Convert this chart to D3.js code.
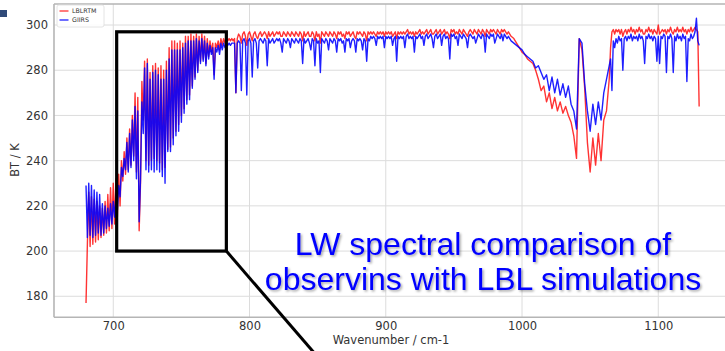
<!DOCTYPE html>
<html>
<head>
<meta charset="utf-8">
<script src="https://cdn.jsdelivr.net/npm/d3@7"></script>
<style>
  html, body { margin: 0; padding: 0; background: #ffffff; }
  svg { display: block; }
</style>
</head>
<body>
<svg id="chart" width="725" height="351"></svg>
<script>
// Sampled wavenumbers (cm-1)
const wavenumber = [
  680,681,682,683,684,685,686,687,688,689,690,691,692,693,694,695,696,697,698,699,
  700,701,702,703,704,705,706,707,708,709,710,711,712,713,714,715,716,717,718,719,
  720,721,722,723,724,725,726,727,728,729,730,731,732,733,734,735,736,737,738,739,
  740,741,742,743,744,745,746,747,748,749,750,751,752,753,754,755,756,757,758,759,
  760,761,762,763,764,765,766,767,768,769,770,771,772,773,774,775,776,777,778,779,
  780,781,782,783,784,785,786,787,788,789,790,791,792,793,794,795,796,797,798,799,
  800,801,802,803,804,805,806,807,808,809,810,811,812,813,814,815,816,817,818,819,
  820,821,822,823,824,825,826,827,828,829,830,831,832,833,834,835,836,837,838,839,
  840,841,842,843,844,845,846,847,848,849,850,851,852,853,854,855,856,857,858,859,
  860,861,862,863,864,865,866,867,868,869,870,871,872,873,874,875,876,877,878,879,
  880,881,882,883,884,885,886,887,888,889,890,891,892,893,894,895,896,897,898,899,
  900,901,902,903,904,905,906,907,908,909,910,911,912,913,914,915,916,917,918,919,
  920,921,922,923,924,925,926,927,928,929,930,931,932,933,934,935,936,937,938,939,
  940,941,942,943,944,945,946,947,948,949,950,951,952,953,954,955,956,957,958,959,
  960,961,962,963,964,965,966,967,968,969,970,971,972,973,974,975,976,977,978,979,
  980,981,982,983,984,985,986,987,988,989,990,991,
  992,994,996,998,1000,1002,1004,1006,1008,1010,1012,1014,1016,1018,1020,1022,1024,1026,1028,1030,
  1032,1034,1036,1038,1040,1042,1044,1046,1048,1050,1052,1054,1056,1058,1060,1062,1064,
  1065,1066,1067,1068,1069,1070,1071,1072,1073,1074,1075,1076,1077,1078,1079,1080,1081,1082,1083,1084,
  1085,1086,1087,1088,1089,1090,1091,1092,1093,1094,1095,1096,1097,1098,1099,1100,1101,1102,1103,1104,
  1105,1106,1107,1108,1109,1110,1111,1112,1113,1114,1115,1116,1117,1118,1119,1120,1121,1122,1123,1124,
  1125,1126,1127,1128,1129,1130
];

// LBLRTM simulated brightness temperature (K)
const lblrtm = [
  177,203,226,202,224,203,223,204,222,205,220,206,219,207,222,208,225,209,228,210,
  230,212,232,215,234,220,240,231,244,234,250,236,254,238,260,242,270,235,268,209,
  230,275,258,284,240,285,238,279,240,282,241,283,240,281,239,282,236,280,237,284,
  245,290,246,293,250,293,253,292,256,293,260,292,263,295,267,295,269,296,273,295,
  277,296,280,295,284,296,285,295,283,294,286,293,288,292,278,292,290,293,289,294,
  291,294,292,294,293,294,293,294,293,294,270,294,296,295,292,296,297,295,291,296,
  297,295,293,296,297,295,294,296,297,295,296,297,296,294,297,295,296,297,295,296,
  297,296,297,295,295,297,296,295,297,296,295,297,296,295,297,296,295,297,296,293,
  297,295,296,297,295,295,297,296,293,297,295,296,292,297,296,295,297,296,295,297,
  296,295,297,296,294,297,296,297,295,296,294,297,296,297,295,296,297,295,294,297,
  296,297,296,295,297,296,293,297,296,297,296,297,296,295,297,296,297,296,297,295,
  297,296,297,296,297,295,296,297,294,297,296,297,296,297,296,297,298,296,297,296,
  297,295,297,296,297,298,296,297,296,297,298,296,297,298,296,296,297,298,296,297,
  298,296,297,298,296,297,296,294,298,297,298,296,297,296,298,297,296,298,297,296,
  295,297,298,297,296,298,297,296,298,297,296,298,297,295,298,297,296,298,297,298,
  297,296,298,297,296,298,297,298,297,296,297,296,
  295,294,292,290,288,287,285,284,283,280,276,271,273,266,270,263,268,262,266,261,
  264,260,257,251,241,294,289,272,248,235,250,238,252,240,258,262,276,
  290,297,298,296,298,297,298,296,298,295,297,298,296,298,297,299,297,298,296,298,
  297,299,297,298,296,296,298,297,299,297,298,296,298,297,296,300,296,297,298,297,
  298,296,298,297,299,297,296,298,297,299,297,298,297,299,297,298,296,298,297,299,
  297,298,299,298,297,264
];

// GIIRS observed brightness temperature (K)
const giirs = [
  229,206,230,207,229,206,227,207,226,208,225,207,221,208,220,210,219,211,221,212,
  222,215,225,218,229,224,237,233,241,236,248,235,252,237,258,240,264,232,262,213,
  232,266,252,281,236,283,235,276,236,279,235,280,236,278,235,276,233,276,230,280,
  244,285,244,289,247,289,251,289,253,289,257,290,261,292,265,293,267,293,272,293,
  276,294,279,293,283,294,284,293,282,292,285,291,287,290,276,290,288,291,287,292,
  289,292,290,292,291,292,291,292,292,292,270,292,293,292,271,293,294,292,269,293,
  294,292,277,293,294,292,281,293,294,293,292,294,293,282,294,292,293,294,292,293,
  294,293,294,292,288,294,293,292,294,293,290,294,293,292,294,293,292,294,293,283,
  294,292,293,294,292,289,294,293,282,294,292,293,279,294,293,292,294,293,289,294,
  293,292,294,293,288,294,293,294,292,293,288,294,293,294,290,293,294,293,288,294,
  293,294,293,289,294,293,284,294,293,295,294,295,294,291,295,294,295,294,295,290,
  295,294,295,294,295,291,294,295,284,295,294,295,294,295,290,295,296,294,295,294,
  295,288,295,294,295,296,294,295,291,295,296,294,295,296,294,290,295,296,294,295,
  296,291,295,296,294,295,294,285,296,295,296,294,295,291,296,295,294,296,295,294,
  290,295,296,295,294,295,292,294,296,295,294,296,295,288,296,295,294,296,295,296,
  292,294,296,295,294,296,293,296,295,294,295,294,
  293,292,291,290,289,287,286,285,284,281,282,279,276,278,271,277,270,276,269,274,
  268,273,265,262,254,294,292,274,262,253,265,256,266,258,270,276,282,
  285,271,293,290,294,292,295,293,294,280,294,295,293,295,294,296,293,295,294,295,
  293,296,294,295,293,283,295,294,296,294,295,293,295,294,284,295,283,295,294,296,
  295,279,295,294,296,294,279,295,293,296,294,295,293,296,294,295,275,294,293,296,
  294,295,297,303,293,291
];

const xTicks = [700, 800, 900, 1000, 1100];
const yTicks = [180, 200, 220, 240, 260, 280, 300];
const seriesNames = ["LBLRTM", "GIIRS"];
const seriesColors = ["#ff0000", "#0000ff"];
const seriesOpacity = [0.8, 0.88];
const xLabel = "Wavenumber / cm-1";
const yLabel = "BT / K";
const captionLines = ["LW spectral comparison of", "observins with LBL simulations"];

// Highlighted window (wavenumber x BT) and the leader line leaving its corner
const zoomWindow = { wn: [702.5, 783], bt: [200, 297] };
const leaderEnd = [852, 151.8];

const svg = d3.select("#chart");
const plotL = 54, plotR = 729.8, plotT = 4, plotB = 317.3;

const x = d3.scaleLinear().domain([656.5, 1152.5]).range([plotL, plotR]);
const y = d3.scaleLinear().domain([170.7, 309.3]).range([plotB, plotT]);

// slide marker in the corner
svg.append("rect").attr("x", 0).attr("y", 10).attr("width", 7).attr("height", 7).attr("fill", "#2f4a78");

// grid
const grid = svg.append("g").attr("stroke", "#dcdcdc").attr("stroke-width", 1);
grid.selectAll("line.v").data(xTicks).join("line").attr("class", "v")
  .attr("x1", d => x(d)).attr("x2", d => x(d)).attr("y1", plotT).attr("y2", plotB);
grid.selectAll("line.h").data(yTicks).join("line").attr("class", "h")
  .attr("x1", plotL).attr("x2", plotR).attr("y1", d => y(d)).attr("y2", d => y(d));

// spines
const spine = svg.append("g").attr("stroke", "#b5b5b5").attr("stroke-width", 1.6).attr("fill", "none");
spine.append("line").attr("x1", plotL).attr("x2", plotR).attr("y1", plotT).attr("y2", plotT);
spine.append("line").attr("x1", plotL).attr("x2", plotR).attr("y1", plotB).attr("y2", plotB);
spine.append("line").attr("x1", plotL).attr("x2", plotL).attr("y1", plotT).attr("y2", plotB);

// axes
const fontAxis = "'DejaVu Sans', sans-serif";
const yAxis = svg.append("g").attr("transform", `translate(${plotL},0)`)
  .call(d3.axisLeft(y).tickValues(yTicks).tickFormat(d3.format("d")).tickSize(0).tickPadding(6));
const xAxis = svg.append("g").attr("transform", `translate(0,${plotB})`)
  .call(d3.axisBottom(x).tickValues(xTicks).tickFormat(d3.format("d")).tickSize(0).tickPadding(5));
[yAxis, xAxis].forEach(a => {
  a.select(".domain").remove();
  a.selectAll("text").attr("font-family", fontAxis).attr("font-size", 11.5).attr("fill", "#333333");
});

svg.append("text")
  .attr("transform", `translate(19,160) rotate(-90)`)
  .attr("text-anchor", "middle")
  .attr("font-family", fontAxis).attr("font-size", 11.5).attr("fill", "#333333")
  .text(yLabel);
svg.append("text")
  .attr("x", 391).attr("y", 344)
  .attr("text-anchor", "middle")
  .attr("font-family", fontAxis).attr("font-size", 11.5).attr("fill", "#333333")
  .text(xLabel);

// spectra
const series = [lblrtm, giirs];
const line = d3.line().x(d => x(d[0])).y(d => y(d[1]));
series.forEach((vals, i) => {
  svg.append("path")
    .datum(wavenumber.map((w, k) => [w, vals[k]]))
    .attr("fill", "none")
    .attr("stroke", seriesColors[i])
    .attr("stroke-opacity", seriesOpacity[i])
    .attr("stroke-width", 1.4)
    .attr("stroke-linejoin", "round")
    .attr("d", line);
});

// legend
const lg = svg.append("g");
lg.append("rect").attr("x", 57).attr("y", 5).attr("width", 47).attr("height", 22).attr("rx", 2)
  .attr("fill", "#ffffff").attr("fill-opacity", 0.85).attr("stroke", "#dddddd").attr("stroke-width", 0.8);
seriesNames.forEach((name, i) => {
  const yy = 11 + i * 9;
  lg.append("line").attr("x1", 59.5).attr("x2", 68.5).attr("y1", yy).attr("y2", yy)
    .attr("stroke", seriesColors[i]).attr("stroke-opacity", seriesOpacity[i]).attr("stroke-width", 1.3);
  lg.append("text").attr("x", 72).attr("y", yy + 2.2).attr("font-family", fontAxis)
    .attr("font-size", 6.3).attr("fill", "#333333").text(name);
});

// highlighted window and leader line
svg.append("rect")
  .attr("x", x(zoomWindow.wn[0])).attr("y", y(zoomWindow.bt[1]))
  .attr("width", x(zoomWindow.wn[1]) - x(zoomWindow.wn[0]))
  .attr("height", y(zoomWindow.bt[0]) - y(zoomWindow.bt[1]))
  .attr("fill", "none").attr("stroke", "#000000").attr("stroke-width", 3.2);
svg.append("line")
  .attr("x1", x(zoomWindow.wn[1])).attr("y1", y(zoomWindow.bt[0]))
  .attr("x2", x(leaderEnd[0])).attr("y2", y(leaderEnd[1]))
  .attr("stroke", "#000000").attr("stroke-width", 3);

// caption
const defs = svg.append("defs");
const f = defs.append("filter").attr("id", "shadow").attr("x", "-5%").attr("y", "-20%").attr("width", "110%").attr("height", "140%");
f.append("feDropShadow").attr("dx", 1.5).attr("dy", 1.5).attr("stdDeviation", 0.8)
  .attr("flood-color", "#000000").attr("flood-opacity", 0.35);
const cap = svg.append("g").attr("filter", "url(#shadow)");
captionLines.forEach((t, i) => {
  cap.append("text")
    .attr("x", 483).attr("y", 255 + i * 35)
    .attr("text-anchor", "middle")
    .attr("font-family", "'Liberation Sans', Arial, sans-serif")
    .attr("font-size", 32).attr("fill", "#0000ff")
    .text(t);
});
</script>
</body>
</html>
